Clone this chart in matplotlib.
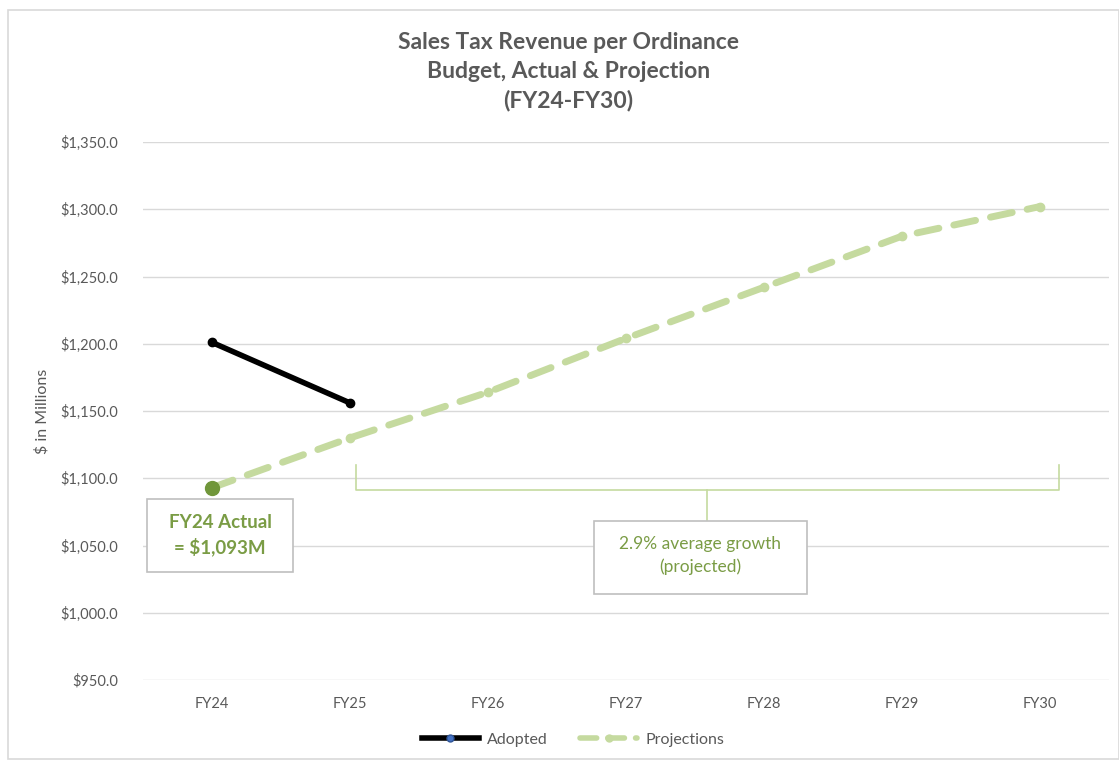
import matplotlib.pyplot as plt
from matplotlib.patches import Rectangle
from matplotlib.lines import Line2D

# data
years = ["FY24", "FY25", "FY26", "FY27", "FY28", "FY29", "FY30"]
adopted = [1201, 1156]
projections = [1093, 1130, 1164, 1204, 1242, 1280, 1302]
fy24_actual = 1093
growth_txt = "2.9% average growth\n(projected)"
actual_txt = "FY24 Actual\n= $1,093M"

gray = "#595959"
light_green = "#C5DA9F"
dark_green = "#70963A"
text_green = "#7A9C45"

plt.rcParams['font.family'] = ['Lato', 'DejaVu Sans']

fig = plt.figure(figsize=(11.19, 7.61), dpi=100)
ax = fig.add_axes([0.1278, 0.1064, 0.8632, 0.707])

x = list(range(len(years)))
ax.plot(x, projections, color=light_green, lw=5, ls=(0, (3.2, 2.2)),
        dash_capstyle='round', solid_capstyle='round',
        marker='o', ms=6, zorder=3)
ax.plot(x[:len(adopted)], adopted, color='black', lw=4, solid_capstyle='round',
        marker='o', ms=6, zorder=4)
ax.plot([0], [fy24_actual], 'o', color=dark_green, ms=10, zorder=5)

ax.set_xlim(-0.5, len(years) - 0.5)
ax.set_ylim(950, 1350)
ax.set_yticks(range(950, 1351, 50))
ax.set_yticklabels(["${:,.1f}".format(v) for v in range(950, 1351, 50)])
ax.set_xticks(x)
ax.set_xticklabels(years)
ax.tick_params(colors=gray, labelsize=10.5, length=0, pad=12)
ax.tick_params(axis='y', pad=18)
ax.grid(axis='y', color='#D9D9D9', lw=1)
ax.set_axisbelow(True)
for s in ax.spines.values():
    s.set_visible(False)
ax.set_ylabel("$ in Millions", color=gray, fontsize=11.5, labelpad=8)

# bracket for growth
bx0, bx1 = 1.04, 6.14
by, btop = 1091, 1110
ax.plot([bx0, bx0, bx1, bx1], [btop, by, by, btop], color=light_green, lw=1.2, zorder=2)
ax.plot([(bx0 + bx1) / 2] * 2, [by, 1069], color=light_green, lw=1.2, zorder=2)

# text boxes
ax.add_patch(Rectangle((2.768, 1014), 1.544, 54.2, fc='white', ec='#BFBFBF', lw=1.2, zorder=6))
ax.text(3.54, 1042.5, growth_txt, ha='center', va='center', color=text_green,
        fontsize=12.5, linespacing=1.45, zorder=7)
ax.add_patch(Rectangle((-0.471, 1030.3), 1.058, 54.3, fc='white', ec='#BFBFBF', lw=1.2, zorder=6))
ax.text(0.058, 1057.6, actual_txt, ha='center', va='center', color=text_green,
        fontsize=13.5, fontweight='bold', linespacing=1.4, zorder=7)

fig.text(0.508, 0.958, "Sales Tax Revenue per Ordinance\nBudget, Actual & Projection\n(FY24-FY30)",
         ha='center', va='top', color=gray, fontsize=16.5, fontweight='bold',
         linespacing=1.45)

handles = [Line2D([], [], color='black', lw=4, marker='o', ms=5,
                  mfc='#4472C4', mec='#2F5597'),
           Line2D([], [], color=light_green, lw=4, ls=(0, (3, 2)),
                  dash_capstyle='round', marker='o', ms=5, markevery=[1])]
fig.legend(handles, ["Adopted", "Projections"], loc='center', ncol=2,
           bbox_to_anchor=(0.512, 0.028), frameon=False, fontsize=11.5,
           labelcolor=gray, handlelength=3.6, handletextpad=0.5, columnspacing=2.0)

fig.patches.append(Rectangle((0.007, 0.003), 0.993, 0.984, transform=fig.transFigure,
                             fill=False, ec='#D9D9D9', lw=1.2))

fig.savefig("out.png", dpi=100)
